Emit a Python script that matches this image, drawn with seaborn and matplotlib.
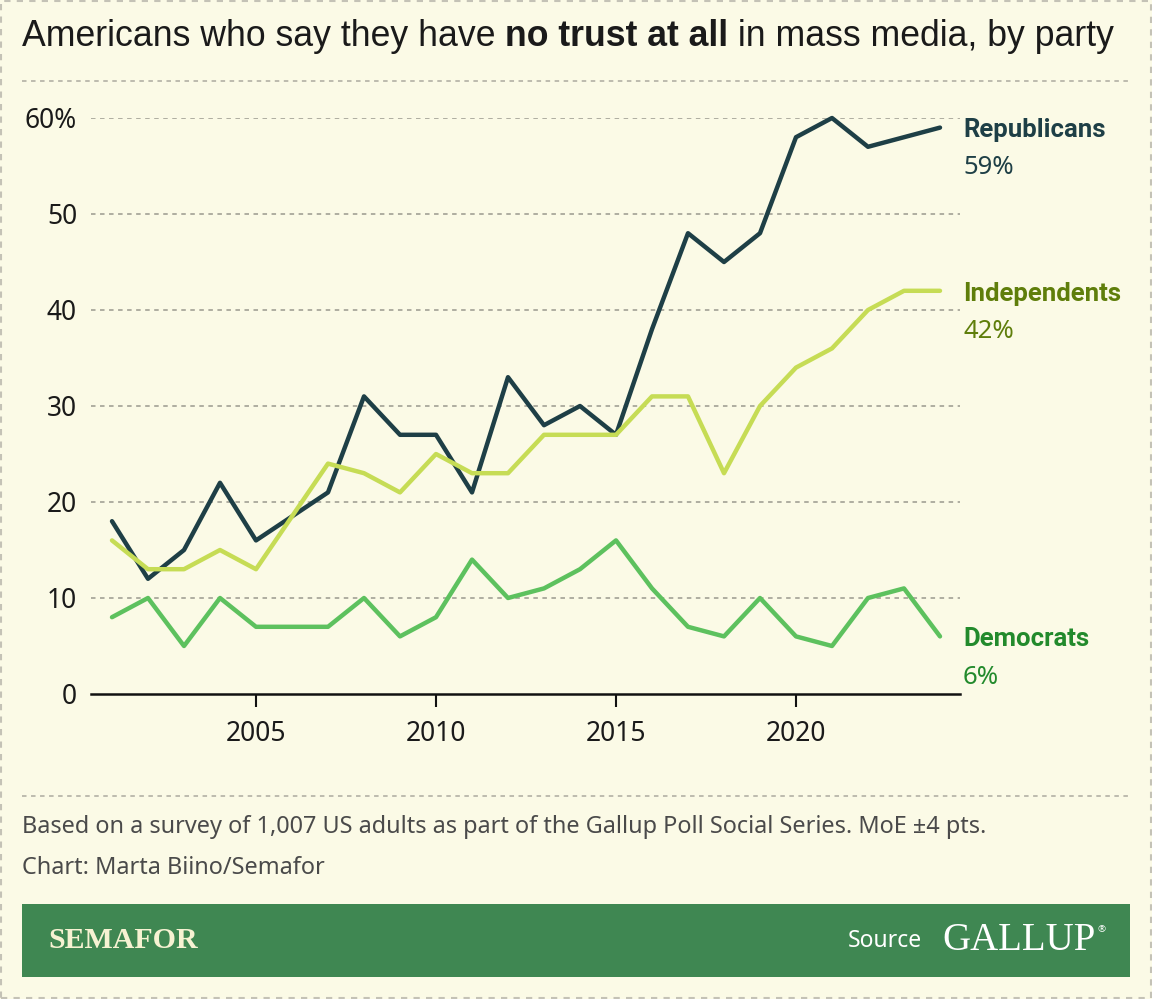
import numpy as np
import pandas as pd
import matplotlib
matplotlib.use("Agg")
import matplotlib.pyplot as plt
from matplotlib.patches import Rectangle
from matplotlib.lines import Line2D
import seaborn as sns

# ---------------- data ----------------
years = [2001, 2002, 2003, 2004, 2005, 2007, 2008, 2009, 2010, 2011, 2012,
         2013, 2014, 2015, 2016, 2017, 2018, 2019, 2020, 2021, 2022, 2023, 2024]
republicans = [18, 12, 15, 22, 16, 21, 31, 27, 27, 21, 33,
               28, 30, 27, 38, 48, 45, 48, 58, 60, 57, 58, 59]
independents = [16, 13, 13, 15, 13, 24, 23, 21, 25, 23, 23,
                27, 27, 27, 31, 31, 23, 30, 34, 36, 40, 42, 42]
democrats = [8, 10, 5, 10, 7, 7, 10, 6, 8, 14, 10,
             11, 13, 16, 11, 7, 6, 10, 6, 5, 10, 11, 6]
parties = ["Republicans", "Independents", "Democrats"]
y_ticks = [0, 10, 20, 30, 40, 50, 60]
y_tick_labels = ["0", "10", "20", "30", "40", "50", "60%"]
x_ticks = [2005, 2010, 2015, 2020]

title_parts = [("Americans who say they have ", "normal"),
               ("no trust at all", "bold"),
               (" in mass media, by party", "normal")]
note_text = "Based on a survey of 1,007 US adults as part of the Gallup Poll Social Series. MoE \u00b14 pts."
credit_text = "Chart: Marta Biino/Semafor"

df = pd.DataFrame({
    "year": years * 3,
    "value": republicans + independents + democrats,
    "party": [parties[0]] * len(years) + [parties[1]] * len(years) + [parties[2]] * len(years),
})

# ---------------- style ----------------
BG = "#FBFAE6"
line_colors = {"Republicans": "#1E3F46", "Independents": "#C6DC55", "Democrats": "#5DC15E"}
label_colors = {"Republicans": "#1E3F46", "Independents": "#5F7E0B", "Democrats": "#228A2C"}
BANNER = "#3F8752"
CREAM = "#F6F2D2"

sns.set_theme(style="white")
plt.rcParams["font.family"] = ["Noto Sans", "DejaVu Sans"]

W, H = 1152, 999
fig = plt.figure(figsize=(W / 100, H / 100), dpi=100, facecolor=BG)

def fx(px):
    return px / W

def fy(py):
    return 1 - py / H

# axes placement
ax_l, ax_r, ax_t, ax_b = 91, 960, 118, 694
ax = fig.add_axes([fx(ax_l), fy(ax_b), (ax_r - ax_l) / W, (ax_b - ax_t) / H])
ax.set_facecolor(BG)

sns.lineplot(data=df, x="year", y="value", hue="party", palette=line_colors,
             linewidth=3.2, ax=ax, legend=False, clip_on=False, zorder=3)

ax.set_xlim(2001 - 21 / 36, 2024 + 20 / 36)
ax.set_ylim(0, 60)
ax.set_xlabel("")
ax.set_ylabel("")

for v in y_ticks[1:]:
    ax.axhline(v, color="#A9A79B", linewidth=1.3, linestyle=(0, (2.5, 2.5)), zorder=1)

for s in ["top", "right", "left"]:
    ax.spines[s].set_visible(False)
ax.spines["bottom"].set_color("#111111")
ax.spines["bottom"].set_linewidth(1.8)
ax.spines["bottom"].set_zorder(4)

ax.set_xticks(x_ticks)
ax.set_xticklabels([str(t) for t in x_ticks])
ax.set_yticks(y_ticks)
ax.set_yticklabels(y_tick_labels)
ax.tick_params(axis="x", direction="out", length=9, width=1.5, color="#111111",
               labelsize=19, labelcolor="#1a1a1a", pad=10, bottom=True)
ax.tick_params(axis="y", length=0, labelsize=19, labelcolor="#1a1a1a", pad=10)
ax.grid(False)

# end labels
last_vals = {"Republicans": republicans[-1], "Independents": independents[-1], "Democrats": democrats[-1]}
label_pos = {"Republicans": (130, 167), "Independents": (294, 331), "Democrats": (639, 677)}
for p in parties:
    ny, vy = label_pos[p]
    fig.text(fx(963), fy(ny), p, color=label_colors[p], fontsize=18.5, fontweight="bold",
             ha="left", va="center", family=["Roboto", "DejaVu Sans"], stretch="condensed")
    fig.text(fx(963), fy(vy), f"{last_vals[p]}%", color=label_colors[p], fontsize=18.5,
             ha="left", va="center")

# title in pieces
renderer = fig.canvas.get_renderer()
x_cur = 22
for txt, wt in title_parts:
    t = fig.text(fx(x_cur), fy(37), txt, fontsize=25.7, fontweight=wt, color="#1a1a1a",
                 ha="left", va="center", family=["Liberation Sans", "DejaVu Sans"])
    bb = t.get_window_extent(renderer=renderer)
    x_cur += bb.width

# separators
for yy in (81, 796):
    fig.add_artist(Line2D([fx(22), fx(1130)], [fy(yy), fy(yy)], color="#B8B6AA",
                          linewidth=1.3, linestyle=(0, (2.5, 2.5))))

# footer
fig.text(fx(22), fy(827), note_text, fontsize=16.9, color="#4a4a4a", ha="left", va="center")
fig.text(fx(22), fy(868), credit_text, fontsize=16.9, color="#4a4a4a", ha="left", va="center")

# banner
fig.add_artist(Rectangle((fx(22), fy(977)), (1130 - 22) / W, (977 - 904) / H,
                         transform=fig.transFigure, facecolor=BANNER, edgecolor="none"))
fig.text(fx(48), fy(941), "SEMAFOR", fontsize=21.5, fontweight="bold", color=CREAM,
         ha="left", va="center", family=["Liberation Serif", "DejaVu Serif"])
fig.text(fx(922), fy(941), "Source", fontsize=16.5, color="#FFFFFF", ha="right", va="center")
fig.text(fx(942), fy(941), "GALLUP", fontsize=28, color="#FFFFFF", ha="left", va="center",
         family=["Liberation Serif", "DejaVu Serif"])
fig.text(fx(1097), fy(930), "\u00ae", fontsize=7, color="#FFFFFF", ha="left", va="center")

# outer dashed border
fig.add_artist(Rectangle((0.001, 0.001), 0.998, 0.998, transform=fig.transFigure,
                         facecolor="none", edgecolor="#C4C2B6", linewidth=1.5,
                         linestyle=(0, (3, 3))))

fig.savefig("out.png", dpi=100, facecolor=BG)
